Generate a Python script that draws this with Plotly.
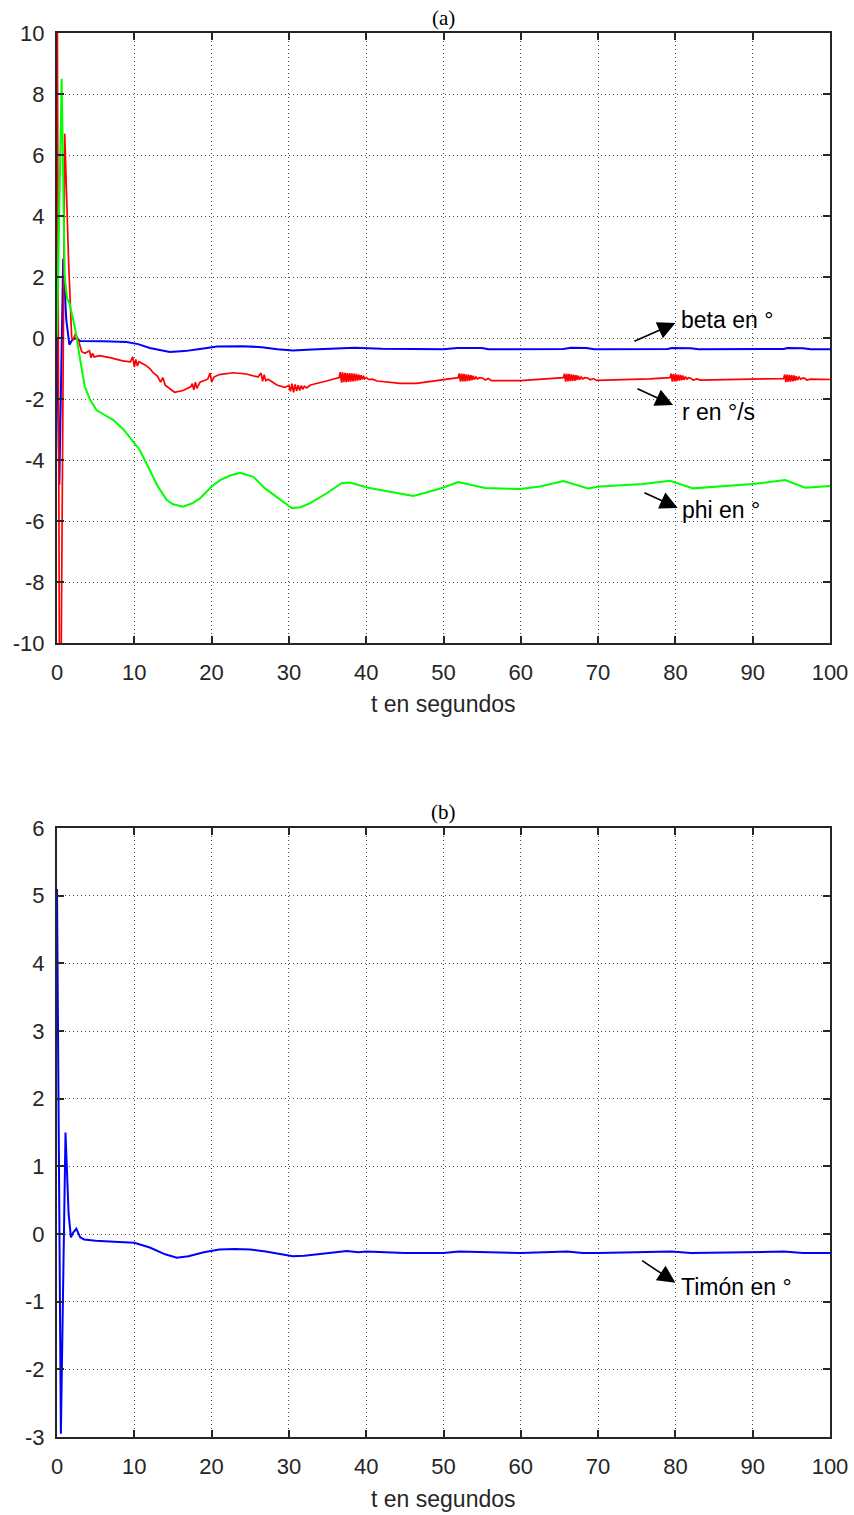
import plotly.graph_objects as go

# ---------------- (a) lateral states ----------------
T_BETA = [0, 0.3, 0.8, 1.2, 1.6, 2.0, 2.5, 3.0, 6.0, 9.0, 10.5, 12.0, 14.6, 16.5, 18.5,
          20.7, 24.0, 26.5, 28.5, 30.5, 33.0, 36.5, 38.5, 42.0, 46.0, 50.0, 51.8, 55.0,
          55.8, 60.0, 65.5, 66.5, 68.5, 69.5, 79.0, 79.5, 82.0, 83.0, 94.0, 94.5, 96.5,
          97.5, 100.0]
BETA = [0, -4.8, 2.6, 0.6, -0.22, -0.05, 0.0, -0.1, -0.11, -0.13, -0.2, -0.33, -0.46,
        -0.43, -0.36, -0.28, -0.27, -0.3, -0.37, -0.41, -0.38, -0.33, -0.32, -0.35, -0.37,
        -0.37, -0.33, -0.33, -0.37, -0.37, -0.36, -0.32, -0.33, -0.37, -0.36, -0.33, -0.34,
        -0.37, -0.36, -0.33, -0.34, -0.37, -0.37]

T_R = [0, 0.35, 0.45, 1.0, 1.5, 1.9, 2.1, 2.4, 2.8, 3.2, 3.6, 4.2, 4.4, 4.6, 4.8, 5.5,
       7.0, 8.5, 9.5, 9.8, 10.0, 10.2, 10.4, 10.6, 11.5, 12.0, 12.5, 13.0, 13.4, 13.7,
       14.0, 14.5, 15.2, 16.3, 17.3, 17.5, 17.7, 17.9, 18.1, 18.5, 19.5, 19.8, 20.0, 20.3,
       21.0, 22.8, 24.5, 26.0, 26.4, 26.6, 26.8, 27.0, 27.3, 28.5, 29.5, 30.0,
       30.2, 30.4, 30.6, 30.8, 31.0, 31.2, 31.4, 31.6, 31.8, 32.0, 32.3, 32.8, 33.5, 35.0,
       36.5, 36.65, 36.8, 36.95, 37.1, 37.25, 37.4, 37.55, 37.7, 37.85, 38.0, 38.15, 38.3,
       38.45, 38.6, 38.75, 38.9, 39.05, 39.2, 39.35, 39.5, 39.65, 39.8, 40.0, 40.3, 40.8,
       41.4, 44.4, 46.5, 50.0,
       51.9, 52.05, 52.2, 52.35, 52.5, 52.65, 52.8, 52.95, 53.1, 53.25, 53.4, 53.55, 53.7,
       53.85, 54.0, 54.2, 54.4, 54.7, 55.1, 55.4, 55.8, 56.2, 60.0,
       65.5, 65.65, 65.8, 65.95, 66.1, 66.25, 66.4, 66.55, 66.7, 66.85, 67.0, 67.15, 67.3,
       67.45, 67.6, 67.8, 68.0, 68.3, 68.7, 69.0, 69.4, 69.8, 76.7,
       79.3, 79.45, 79.6, 79.75, 79.9, 80.05, 80.2, 80.35, 80.5, 80.65, 80.8, 80.95, 81.1,
       81.3, 81.5, 81.7, 82.0, 82.3, 82.8, 83.2,
       94.0, 94.15, 94.3, 94.45, 94.6, 94.75, 94.9, 95.05, 95.2, 95.35, 95.5, 95.65, 95.8,
       96.0, 96.2, 96.5, 96.8, 97.0, 97.5, 100.0]
R = [14, -14, -14, 6.7, 2.5, 0.0, -0.05, 0.15, -0.1, -0.45, -0.5, -0.42, -0.65, -0.5,
     -0.62, -0.58, -0.65, -0.75, -0.78, -0.62, -0.95, -0.7, -0.92, -0.78, -0.9, -1.0,
     -1.15, -1.25, -1.45, -1.3, -1.55, -1.65, -1.78, -1.72, -1.6, -1.5, -1.7, -1.45, -1.65,
     -1.45, -1.35, -1.15, -1.45, -1.28, -1.2, -1.14, -1.18, -1.28, -1.15, -1.42, -1.2,
     -1.4, -1.35, -1.55, -1.62, -1.55,
     -1.75, -1.5, -1.78, -1.52, -1.74, -1.55, -1.72, -1.56, -1.68, -1.58, -1.64, -1.54,
     -1.5, -1.4,
     -1.3, -1.12, -1.46, -1.13, -1.45, -1.14, -1.45, -1.15, -1.44, -1.15, -1.43, -1.16,
     -1.42, -1.17, -1.41, -1.18, -1.4, -1.2, -1.38, -1.22, -1.36, -1.24, -1.34, -1.3,
     -1.36, -1.35, -1.41, -1.49, -1.49, -1.36,
     -1.3, -1.16, -1.43, -1.17, -1.42, -1.18, -1.42, -1.19, -1.41, -1.2, -1.4, -1.22,
     -1.38, -1.24, -1.36, -1.28, -1.34, -1.3, -1.32, -1.38, -1.33, -1.4, -1.4,
     -1.3, -1.17, -1.43, -1.18, -1.42, -1.18, -1.41, -1.19, -1.41, -1.2, -1.4, -1.22,
     -1.38, -1.24, -1.36, -1.28, -1.34, -1.3, -1.32, -1.37, -1.33, -1.39, -1.34,
     -1.3, -1.17, -1.43, -1.18, -1.42, -1.19, -1.41, -1.2, -1.4, -1.21, -1.39, -1.23,
     -1.37, -1.27, -1.35, -1.3, -1.32, -1.38, -1.34, -1.38,
     -1.33, -1.2, -1.45, -1.2, -1.44, -1.21, -1.43, -1.22, -1.42, -1.23, -1.4, -1.25,
     -1.38, -1.28, -1.35, -1.31, -1.33, -1.38, -1.35, -1.36]

T_PHI = [0, 0.6, 1.0, 1.3, 1.6, 2.0, 2.3, 3.0, 3.6, 4.3, 5.1, 6.0, 7.3, 8.6, 9.9, 10.7,
         12.0, 13.0, 14.2, 15.0, 16.3, 17.5, 18.5, 20.0, 21.1, 22.5, 23.7, 25.4, 26.9,
         28.4, 30.4, 31.5, 32.7, 34.9, 36.8, 37.9, 40.1, 42.2, 44.4, 46.1, 48.0, 50.0,
         51.9, 53.5, 55.4, 59.9, 62.5, 65.5, 68.7, 70.2, 75.8, 79.3, 82.3, 90.0, 94.2,
         96.8, 100.0]
PHI = [0, 8.5, 2.0, 1.3, 1.15, 0.7, 0.37, -0.72, -1.6, -2.03, -2.36, -2.5, -2.69, -3.0,
       -3.44, -3.67, -4.33, -4.85, -5.31, -5.45, -5.53, -5.42, -5.26, -4.87, -4.66, -4.5,
       -4.42, -4.55, -4.93, -5.2, -5.58, -5.55, -5.42, -5.09, -4.76, -4.74, -4.9, -5.0,
       -5.1, -5.18, -5.05, -4.9, -4.72, -4.8, -4.92, -4.95, -4.87, -4.69, -4.93, -4.87,
       -4.79, -4.68, -4.93, -4.79, -4.66, -4.91, -4.85]

# ---------------- (b) rudder ----------------
T_RUD = [0, 0.5, 1.1, 1.5, 1.8, 2.1, 2.5, 3.0, 3.5, 5.0, 8.0, 10.0, 12.0, 14.0, 15.5,
         17.0, 19.0, 21.0, 23.0, 25.0, 27.0, 29.0, 30.5, 32.0, 35.0, 37.5, 39.0, 40.0,
         45.0, 50.0, 52.0, 55.0, 60.0, 66.0, 68.0, 70.0, 79.5, 82.0, 94.0, 96.5, 100.0]
RUD = [5.1, -2.95, 1.5, 0.3, -0.05, 0.02, 0.08, -0.05, -0.08, -0.1, -0.12, -0.13, -0.2,
       -0.3, -0.35, -0.33, -0.27, -0.23, -0.22, -0.23, -0.26, -0.3, -0.33, -0.32, -0.28,
       -0.25, -0.27, -0.26, -0.28, -0.28, -0.26, -0.27, -0.28, -0.26, -0.28, -0.28, -0.26,
       -0.28, -0.26, -0.28, -0.28]

X_TICKS = list(range(0, 101, 10))
Y_TICKS_A = list(range(-10, 11, 2))
Y_TICKS_B = list(range(-3, 7, 1))

W, H = 854, 1515
PX_L, PX_R = 57, 830
A_TOP, A_BOT = 33, 643
B_TOP, B_BOT = 828, 1437

SANS = "Liberation Sans, Arial, sans-serif"
SERIF = "Liberation Serif, Times New Roman, serif"
AX_COL = "#262626"
GRID_COL = "rgba(20,20,20,0.75)"
TICK_SIZE = 22
TEXT_SIZE = 23

fig = go.Figure()
fig.add_trace(go.Scatter(x=T_BETA, y=BETA, mode="lines", line=dict(color="#0000ff", width=2),
                         xaxis="x", yaxis="y", showlegend=False))
fig.add_trace(go.Scatter(x=T_R, y=R, mode="lines", line=dict(color="#ff0000", width=1.7),
                         xaxis="x", yaxis="y", showlegend=False))
fig.add_trace(go.Scatter(x=T_PHI, y=PHI, mode="lines", line=dict(color="#00ff00", width=2),
                         xaxis="x", yaxis="y", showlegend=False))
fig.add_trace(go.Scatter(x=T_RUD, y=RUD, mode="lines", line=dict(color="#0000ff", width=2),
                         xaxis="x2", yaxis="y2", showlegend=False))


def axis_style(vals, **kw):
    base = dict(
        showline=True, linecolor=AX_COL, linewidth=2, mirror="ticks",
        ticks="inside", ticklen=7, tickwidth=2, tickcolor=AX_COL,
        showgrid=True, gridcolor=GRID_COL, griddash="1px,3px", gridwidth=1,
        zeroline=False, tickfont=dict(family=SANS, size=TICK_SIZE, color=AX_COL),
        automargin=False, tickvals=vals, ticktext=[str(v) for v in vals],
    )
    base.update(kw)
    return base


xd = [PX_L / W, PX_R / W]
fig.update_layout(
    width=W, height=H,
    margin=dict(l=0, r=0, t=0, b=0),
    paper_bgcolor="white", plot_bgcolor="white",
    xaxis=axis_style(X_TICKS, domain=xd, range=[0, 100], anchor="y", ticklabelstandoff=9),
    yaxis=axis_style(Y_TICKS_A, domain=[1 - A_BOT / H, 1 - A_TOP / H], range=[-10, 10],
                     anchor="x", ticklabelstandoff=6),
    xaxis2=axis_style(X_TICKS, domain=xd, range=[0, 100], anchor="y2", ticklabelstandoff=9),
    yaxis2=axis_style(Y_TICKS_B, domain=[1 - B_BOT / H, 1 - B_TOP / H], range=[-3, 6],
                      anchor="x2", ticklabelstandoff=6),
)

cx = (PX_L + PX_R) / 2 / W
ann = [
    dict(text="(a)", x=cx, y=1 - 18 / H, font=dict(family=SERIF, size=21, color="black")),
    dict(text="(b)", x=cx, y=1 - 812 / H, font=dict(family=SERIF, size=21, color="black")),
    dict(text="t en segundos", x=cx, y=1 - 704 / H,
         font=dict(family=SANS, size=TEXT_SIZE, color=AX_COL)),
    dict(text="t en segundos", x=cx, y=1 - 1499 / H,
         font=dict(family=SANS, size=TEXT_SIZE, color=AX_COL)),
]
for a in ann:
    a.update(xref="paper", yref="paper", showarrow=False, xanchor="center", yanchor="middle")
    fig.add_annotation(**a)

# labelled arrows: (label, axes, text position, arrow tail, arrow head)
labels = [
    ("beta en °", "x", "y", (80.5, 0.59), (74.5, -0.13), (80.0, 0.49)),
    ("r en °/s", "x", "y", (80.6, -2.43), (74.9, -1.64), (79.7, -2.2)),
    ("phi en °", "x", "y", (80.6, -5.64), (75.8, -5.05), (80.3, -5.57)),
    ("Timón en °", "x2", "y2", (80.5, -0.78), (75.5, -0.38), (80.0, -0.72)),
]
for text, xr, yr, pos, tail, head in labels:
    fig.add_annotation(x=head[0], y=head[1], ax=tail[0], ay=tail[1], xref=xr, yref=yr,
                       axref=xr, ayref=yr, text="", showarrow=True, arrowhead=2,
                       arrowsize=2.2, arrowwidth=1.6, arrowcolor="black", standoff=0)
    fig.add_annotation(x=pos[0], y=pos[1], xref=xr, yref=yr, text=text, showarrow=False,
                       xanchor="left", yanchor="middle",
                       font=dict(family=SANS, size=TEXT_SIZE, color="black"))

fig.write_html("out.html")
